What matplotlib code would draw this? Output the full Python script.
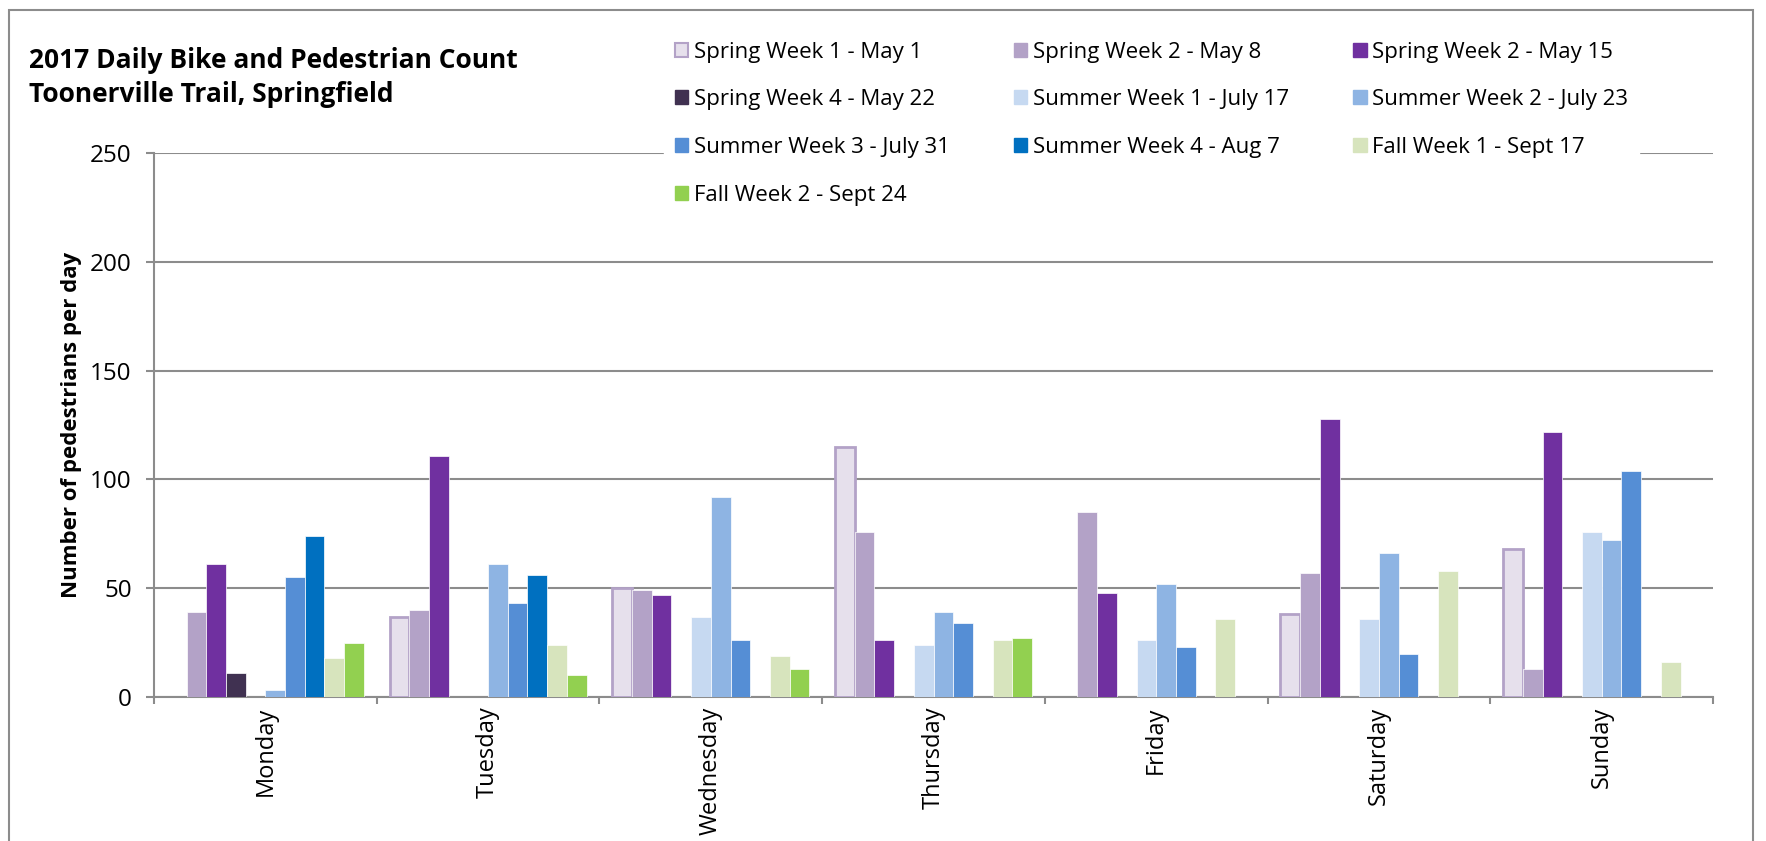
import numpy as np
import matplotlib
matplotlib.use('Agg')
import matplotlib.pyplot as plt
import matplotlib.patches as mpatches

plt.rcParams['font.family'] = ['Open Sans', 'DejaVu Sans']

# ── Data ──────────────────────────────────────────────────────────────
DAYS = ['Monday', 'Tuesday', 'Wednesday', 'Thursday', 'Friday', 'Saturday', 'Sunday']
SERIES = ['Spring Week 1 - May 1', 'Spring Week 2 - May 8', 'Spring Week 2 - May 15',
          'Spring Week 4 - May 22', 'Summer Week 1 - July 17', 'Summer Week 2 - July 23',
          'Summer Week 3 - July 31', 'Summer Week 4 - Aug 7', 'Fall Week 1 - Sept 17',
          'Fall Week 2 - Sept 24']
spring_may1  = [0, 37, 50, 115, 0, 38, 68]
spring_may8  = [39, 40, 49, 76, 85, 57, 13]
spring_may15 = [61, 111, 47, 26, 48, 128, 122]
spring_may22 = [11, 0, 0, 0, 0, 0, 0]
summer_jul17 = [0, 0, 37, 24, 26, 36, 76]
summer_jul23 = [3, 61, 92, 39, 52, 66, 72]
summer_jul31 = [55, 43, 26, 34, 23, 20, 104]
summer_aug7  = [74, 56, 0, 0, 0, 0, 0]
fall_sep17   = [18, 24, 19, 26, 36, 58, 16]
fall_sep24   = [25, 10, 13, 27, 0, 0, 0]
VALUES = [spring_may1, spring_may8, spring_may15, spring_may22, summer_jul17,
          summer_jul23, summer_jul31, summer_aug7, fall_sep17, fall_sep24]
COLORS = ['#E6E0EC', '#B3A2C7', '#7030A0', '#403151', '#C6D9F1',
          '#8EB4E3', '#558ED5', '#0070C0', '#D7E4BD', '#92D050']

GRID = '#8c8c8c'

fig = plt.figure(figsize=(17.66, 8.41), dpi=100)
ax = fig.add_axes([0.0872, 0.1712, 0.8828, 0.6468])

x = np.arange(len(DAYS))
n = len(SERIES)
bw = 0.0885
start = -bw * n / 2 + bw / 2
handles = []
for i, (name, vals, col) in enumerate(zip(SERIES, VALUES, COLORS)):
    if i == 0:
        lws = [2 if v > 0 else 0 for v in vals]
        ax.bar(x + start + i * bw, vals, bw, color=col, edgecolor='#B3A2C7',
               linewidth=lws, zorder=3)
        handles.append(mpatches.Patch(facecolor=col, edgecolor='#B3A2C7', linewidth=1.5))
    else:
        lws = [0.5 if v > 0 else 0 for v in vals]
        ax.bar(x + start + i * bw, vals, bw, color=col, edgecolor='white',
               linewidth=lws, zorder=3)
        handles.append(mpatches.Patch(facecolor=col, edgecolor=col))

ax.set_xlim(-0.5, len(DAYS) - 0.5)
ax.set_ylim(0, 250)
ax.set_yticks(np.arange(0, 251, 50))
ax.yaxis.grid(True, color=GRID, lw=1.5, zorder=0)
ax.set_axisbelow(True)
ax.set_xticks(x)
ax.set_xticklabels(DAYS, rotation=90, fontsize=17)
ax.set_xticks(np.arange(-0.5, len(DAYS)), minor=True)
ax.tick_params(axis='x', which='major', length=0, pad=7)
ax.tick_params(axis='x', which='minor', length=5, width=1.5, color=GRID, direction='out')
ax.tick_params(axis='y', length=6, width=1.5, color=GRID, labelsize=17.5, pad=10)
for s in ['top', 'right']:
    ax.spines[s].set_visible(False)
for s in ['left', 'bottom']:
    ax.spines[s].set_color(GRID)
    ax.spines[s].set_linewidth(1.5)
ax.set_ylabel('Number of pedestrians per day', fontsize=16, fontweight='bold', labelpad=6)

# title
fig.text(0.0164, 0.944, '2017 Daily Bike and Pedestrian Count\nToonerville Trail, Springfield',
         fontsize=19, fontweight='bold', va='top', ha='left', linespacing=1.35)

# legend (row-wise order like the reference)
order = [0, 3, 6, 9, 1, 4, 7, 2, 5, 8]
leg = fig.legend([handles[i] for i in order], [SERIES[i] for i in order],
                 ncol=3, loc='upper left', bbox_to_anchor=(0.3695, 0.977),
                 fontsize=16, frameon=True, facecolor='white', edgecolor='white',
                 framealpha=1, fancybox=False, handlelength=0.6, handleheight=0.6,
                 handletextpad=0.25, columnspacing=2.9, labelspacing=1.2,
                 borderpad=0.5)

# outer chart border
border = mpatches.Rectangle((9 / 1766, -0.05), (1753 - 9) / 1766, 1.05 - 10 / 841,
                            transform=fig.transFigure, fill=False, edgecolor=GRID,
                            linewidth=1.5, clip_on=False)
fig.patches.append(border)

fig.savefig('out.png', dpi=100)
